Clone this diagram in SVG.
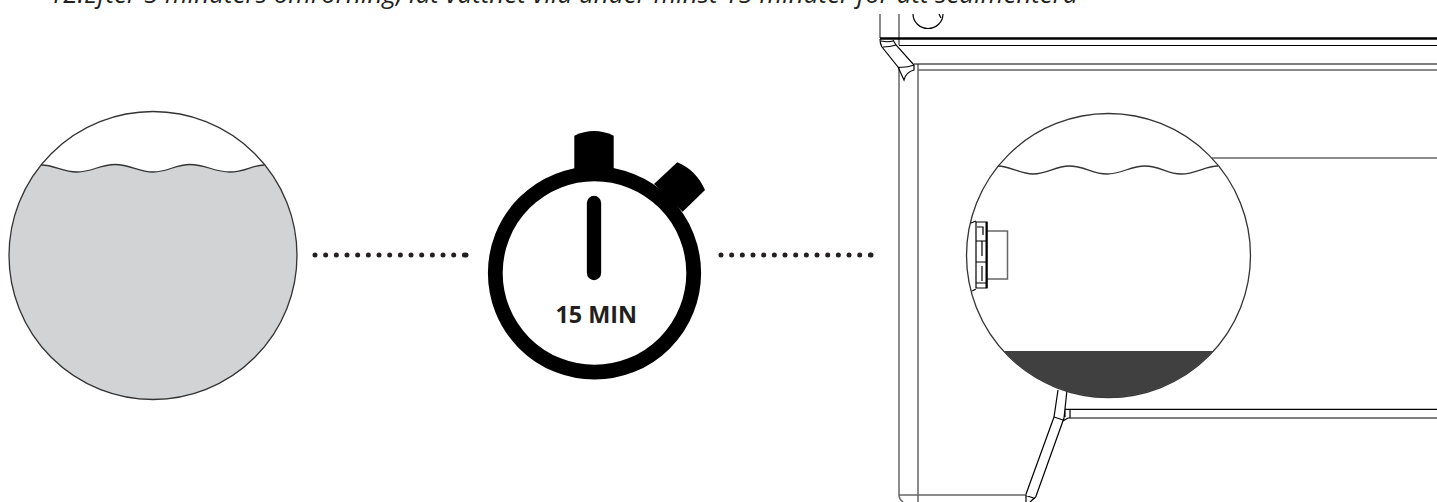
<svg xmlns="http://www.w3.org/2000/svg" width="1437" height="502" viewBox="0 0 1437 502">
<style>
.t{font-family:"Open Sans","Liberation Sans",sans-serif;font-size:25.950px;fill:#231f20}
.l{fill:none;stroke:#333;stroke-width:1.300}
.g{fill:none;stroke:#666;stroke-width:1.500}
.k{fill:none;stroke:#000;stroke-width:1.200}
.dots{fill:none;stroke:#231f20;stroke-width:5;stroke-linecap:round;stroke-dasharray:0 10.67}
</style>
<rect width="1437" height="502" fill="#fff"/>
<text class="t" x="49" y="3" font-style="italic">12.Efter 5 minuters omrörning, låt vattnet vila under minst 15 minuter för att sedimentera</text>
<g id="tank">
<path class="g" d="M880 14V38M899 14V45M899 67V495M918 64V502M918 70H1437"/>
<path d="M880 38.500H1437" fill="none" stroke="#000" stroke-width="2.600"/>
<path class="k" d="M899 45.500H1437M914 64H1437"/>
<path class="k" d="M880 39Q880 44 882 47L898 67L904 80Q906 72 914 70L914 65L896 45L893 40M881 41Q888 42.500 893 41M883 47Q890 47 896 45M898 67Q906 68 914 65"/>
<path class="k" d="M913 14A15 14.500 0 0 0 943 14M939 14L941 18"/>
<path class="g" d="M1212 158H1437"/>
<path class="k" d="M1058 390L1054 417L1025.700 495M1067 390L1064 418L1035.700 497M1054 417L1063 420M1065 409.300H1437M1068 418H1437M1065 409.300V417M1070 409.300V418M1063 421L1068 418"/>
<path class="g" d="M899 495H1026M899 495Q899 499 903 502"/>
<path class="k" d="M1026 495V502M1026 495.500L1035 498.500M1035.700 497L1030 502"/>
</g>
<g id="water-circle">
<path d="M41.400 165C55 165 62 172 77 172C92 172 100 164.500 115 164.500C131 164.500 138 172 153 172C168 172 175 164.500 190 164.500C206 164.500 214 172 230 172C245 172 252 165 264.600 165A144 144 0 1 1 41.400 165Z" fill="#d1d3d4"/>
<circle class="l" cx="153" cy="255.500" r="144"/>
<path class="l" d="M41.400 165C55 165 62 172 77 172C92 172 100 164.500 115 164.500C131 164.500 138 172 153 172C168 172 175 164.500 190 164.500C206 164.500 214 172 230 172C245 172 252 165 264.600 165"/>
</g>
<g id="connectors">
<path class="dots" d="M315 255H466M466 255H472"/>
<path class="dots" d="M721 255H871M871 255H877"/>
</g>
<g id="stopwatch">
<circle cx="594.500" cy="273" r="99.200" fill="none" stroke="#000" stroke-width="14.800"/>
<path d="M574.300 172V135.700Q594 126.500 613.700 135.700V172Z"/>
<path d="M654 184L677.300 162.300Q696 170 705 190L682.700 211.700Z"/>
<path d="M594 203V273" stroke="#000" stroke-width="14.300" stroke-linecap="round"/>
<text x="596.300" y="322.700" text-anchor="middle" font-family="'Open Sans','Liberation Sans',sans-serif" font-weight="700" font-size="23.400" fill="#231f20">15 MIN</text>
</g>
<g id="sediment-circle">
<circle cx="1108.500" cy="255.500" r="142" fill="#fff" stroke="#333" stroke-width="1.300"/>
<path d="M1003.500 351H1213.500A142 142 0 0 1 1003.500 351Z" fill="#404040"/>
<path class="l" d="M998 166C1010 166 1020 174 1033 174C1048 174 1055 166 1069 166C1085 166 1092 174 1107 174C1122 174 1130 166 1145 166C1160 166 1167 174 1181 174C1196 174 1205 166 1218 166"/>
<path class="g" d="M987 231H1007.500V279H987"/>
<path class="k" d="M976 221L971 223M976 289L972 291M976 222V288M976 222H987V288H976M977 227H983V235M976 241H987M982 241V256M976 262H987M982 266V281M976 283H987"/>
<path d="M986.500 222V288" stroke="#000" stroke-width="2" fill="none"/>
</g>
</svg>
